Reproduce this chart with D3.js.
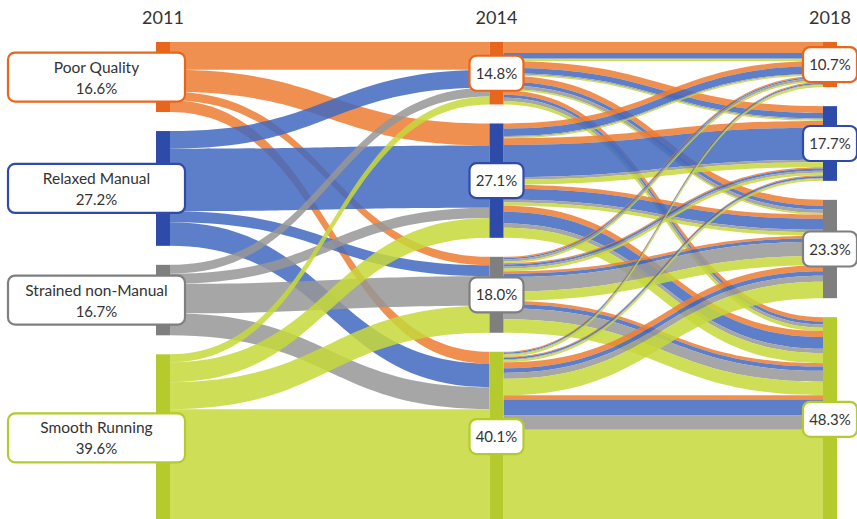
<!DOCTYPE html>
<meta charset="utf-8">
<style>

body {
  margin: 0;
  background: #fff;
}

text {
  font-family: Lato, "Open Sans", sans-serif;
  fill: #333;
}

.flows path {
  fill-opacity: 0.85;
}

</style>
<svg width="857" height="519"></svg>
<script src="https://d3js.org/d3.v7.min.js"></script>
<script>

var categories = ["Poor Quality", "Relaxed Manual", "Strained non-Manual", "Smooth Running"];
var years = ["2011", "2014", "2018"];

var share2011 = [16.6, 27.2, 16.7, 39.6];
var share2014 = [14.8, 27.1, 18.0, 40.1];
var share2018 = [10.7, 17.7, 23.3, 48.3];

// % following each path, one table per 2011 state
// rows = state in 2014, columns = state in 2018
var fromPoor = [
  [2.6, 1.6, 1.4, 1.0],
  [1.2, 1.6, 1.0, 1.4],
  [0.3, 0.3, 0.6, 0.8],
  [0.2, 0.2, 1.4, 1.0]
];
var fromRelaxed = [
  [1.3, 1.3, 0.9, 0.7],
  [1.8, 7.6, 2.6, 2.8],
  [0.3, 0.5, 0.8, 1.0],
  [0.3, 0.4, 1.1, 3.8]
];
var fromStrained = [
  [0.2, 0.3, 0.8, 0.8],
  [0.2, 0.6, 0.6, 1.0],
  [0.5, 0.5, 3.4, 2.6],
  [0.2, 0.2, 1.4, 3.4]
];
var fromSmooth = [
  [0.4, 0.3, 0.4, 0.8],
  [0.3, 1.2, 0.8, 2.4],
  [0.4, 0.6, 2.2, 3.2],
  [0.5, 0.5, 3.9, 21.7]
];

var barColor = ["#e8661c", "#2f4baa", "#7f7f7f", "#b5cb2d"];
var flowColor = ["#ed7d31", "#4169c0", "#969696", "#c5d83a"];

var svg = d3.select("svg");

var paths = [fromPoor, fromRelaxed, fromStrained, fromSmooth];
var n = categories.length;

var x = d3.scalePoint().domain(years).range([163, 830]);
var h = d3.scaleLinear().domain([0, 100]).range([0, 422]);
var marginTop = 42, gap = 19, barW = 14;

// totals at each year
var tot = [0, 1, 2].map(function() { return [0, 0, 0, 0]; });
var stage1 = [];
for (var a = 0; a < n; a++) {
  stage1.push([0, 0, 0, 0]);
  for (var b = 0; b < n; b++) {
    for (var c = 0; c < n; c++) {
      var v = paths[a][b][c];
      tot[0][a] += v;
      tot[1][b] += v;
      tot[2][c] += v;
      stage1[a][b] += v;
    }
  }
}

// node tops
var nodeY = tot.map(function(t) {
  var y = marginTop, out = [];
  t.forEach(function(v) { out.push(y); y += h(v) + gap; });
  return out;
});

function band(x0, x1, y0, y1, w) {
  var xm = (x0 + x1) / 2, p = d3.path();
  p.moveTo(x0, y0);
  p.bezierCurveTo(xm, y0, xm, y1, x1, y1);
  p.lineTo(x1, y1 + w);
  p.bezierCurveTo(xm, y1 + w, xm, y0 + w, x0, y0 + w);
  p.closePath();
  return p.toString();
}

var links = [];

// 2011 -> 2014
var out0 = nodeY[0].slice(), in1 = nodeY[1].slice();
var s1y0 = {}, s1y1 = {};
for (var a = 0; a < n; a++) for (var b = 0; b < n; b++) {
  s1y0[a + "_" + b] = out0[a]; out0[a] += h(stage1[a][b]);
}
for (var b = 0; b < n; b++) for (var a = 0; a < n; a++) {
  s1y1[a + "_" + b] = in1[b]; in1[b] += h(stage1[a][b]);
}
for (var a = 0; a < n; a++) for (var b = 0; b < n; b++) {
  links.push({ a: a, x0: x("2011") + barW / 2, x1: x("2014") - barW / 2,
    y0: s1y0[a + "_" + b], y1: s1y1[a + "_" + b], w: h(stage1[a][b]) });
}

// 2014 -> 2018, split by 2011 state
var out1 = nodeY[1].slice(), in2 = nodeY[2].slice();
var s2y0 = {}, s2y1 = {};
for (var b = 0; b < n; b++) for (var c = 0; c < n; c++) for (var a = 0; a < n; a++) {
  s2y0[a + "_" + b + "_" + c] = out1[b]; out1[b] += h(paths[a][b][c]);
}
for (var c = 0; c < n; c++) for (var b = 0; b < n; b++) for (var a = 0; a < n; a++) {
  s2y1[a + "_" + b + "_" + c] = in2[c]; in2[c] += h(paths[a][b][c]);
}
for (var b = 0; b < n; b++) for (var c = 0; c < n; c++) for (var a = 0; a < n; a++) {
  var k = a + "_" + b + "_" + c;
  links.push({ a: a, x0: x("2014") + barW / 2, x1: x("2018") - barW / 2,
    y0: s2y0[k], y1: s2y1[k], w: h(paths[a][b][c]) });
}

svg.append("g")
    .attr("class", "flows")
  .selectAll("path")
  .data(links)
  .enter().append("path")
    .attr("d", function(d) { return band(d.x0, d.x1, d.y0, d.y1, d.w); })
    .attr("fill", function(d) { return flowColor[d.a]; });

// bars
var nodes = [];
years.forEach(function(yr, i) {
  tot[i].forEach(function(v, j) {
    nodes.push({ year: yr, axis: i, cat: j, y: nodeY[i][j], hgt: h(v) });
  });
});

svg.append("g")
  .selectAll("rect")
  .data(nodes)
  .enter().append("rect")
    .attr("x", function(d) { return x(d.year) - barW / 2; })
    .attr("y", function(d) { return d.y; })
    .attr("width", barW)
    .attr("height", function(d) { return d.hgt; })
    .attr("fill", function(d) { return barColor[d.cat]; });

// year titles
svg.append("g")
  .selectAll("text")
  .data(years)
  .enter().append("text")
    .attr("x", function(d) { return x(d); })
    .attr("y", 24)
    .attr("text-anchor", "middle")
    .style("font-size", "18px")
    .text(function(d) { return d; });

// labels
var shares = [share2011, share2014, share2018];
var label = svg.append("g")
  .selectAll("g")
  .data(nodes)
  .enter().append("g")
    .attr("transform", function(d) {
      return "translate(" + (d.axis === 0 ? 96.5 : x(d.year)) + "," + (d.y + d.hgt / 2) + ")";
    });

label.append("rect")
    .attr("x", function(d) { return d.axis === 0 ? -88.5 : -27; })
    .attr("y", function(d) { return d.axis === 0 ? -24.5 : -17.5; })
    .attr("width", function(d) { return d.axis === 0 ? 177 : 54; })
    .attr("height", function(d) { return d.axis === 0 ? 49 : 35; })
    .attr("rx", 7)
    .attr("fill", "#fff")
    .attr("stroke", function(d) { return barColor[d.cat]; })
    .attr("stroke-width", 2.2);

label.filter(function(d) { return d.axis === 0; })
  .append("text")
    .attr("text-anchor", "middle")
    .attr("y", -4.5)
    .style("font-size", "15.5px")
    .text(function(d) { return categories[d.cat]; });

label.append("text")
    .attr("text-anchor", "middle")
    .attr("y", function(d) { return d.axis === 0 ? 16.5 : 5.5; })
    .style("font-size", "15px")
    .text(function(d) { return shares[d.axis][d.cat].toFixed(1) + "%"; });

</script>
